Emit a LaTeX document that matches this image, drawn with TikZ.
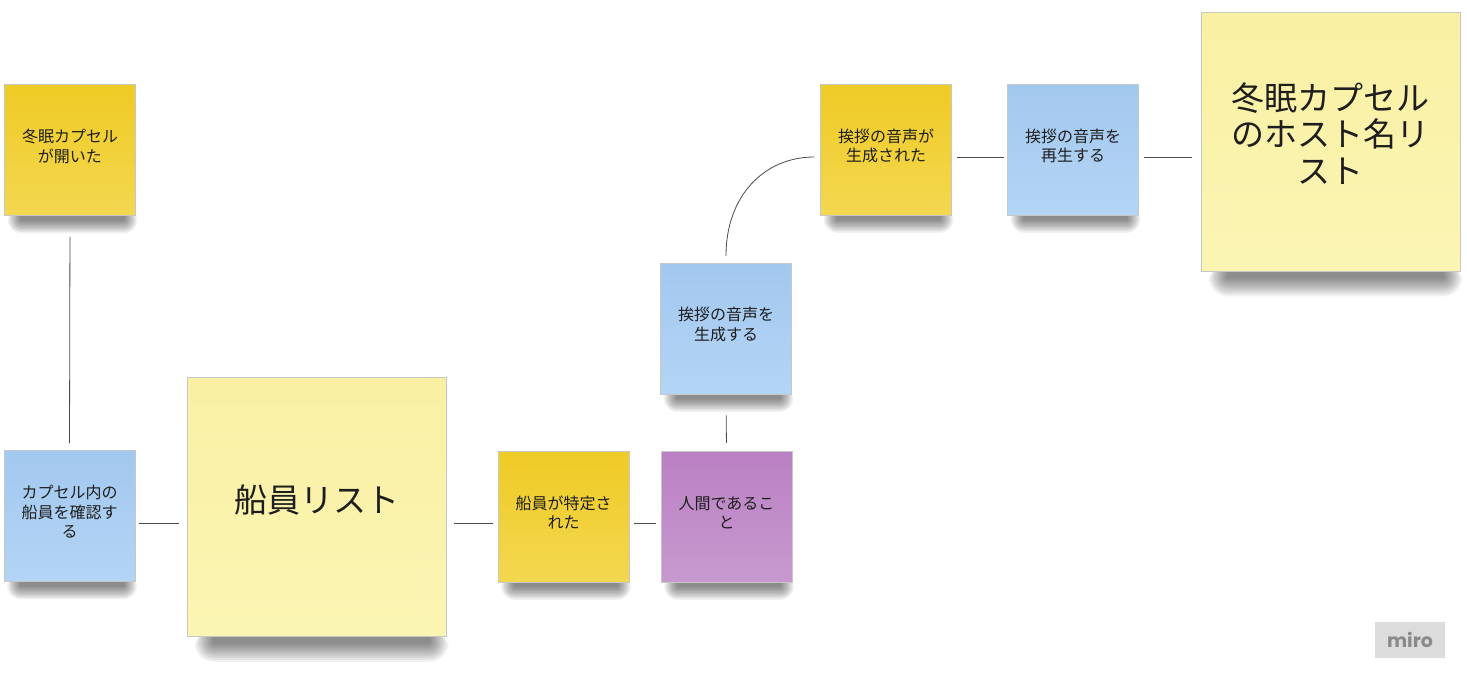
\documentclass[tikz,border=0pt]{standalone}
\usepackage{fontspec}
\newfontfamily\jp{Noto Sans CJK JP}
\newfontfamily\mirofont{Poppins}
\definecolor{yel1}{HTML}{EFCB25}
\definecolor{yel2}{HTML}{F3D750}
\definecolor{blu1}{HTML}{A3C8EF}
\definecolor{blu2}{HTML}{B3D5F5}
\definecolor{pur1}{HTML}{BA80C3}
\definecolor{pur2}{HTML}{C799CF}
\definecolor{lyl1}{HTML}{F9F0A3}
\definecolor{lyl2}{HTML}{FBF5B4}
\definecolor{txt}{HTML}{1E1E1E}
\definecolor{conn}{HTML}{4A4A4A}
\definecolor{mirobg}{HTML}{DCDCDC}
\definecolor{mirotxt}{HTML}{8A8A8A}
\pgfdeclarelayer{paper}
\pgfdeclarelayer{shade}
\pgfsetlayers{paper,shade,main}
\tikzset{
  note/.style={rectangle, inner sep=0pt, draw=black!22, line width=0.5pt},
  smallnote/.style={note, minimum width=131pt, minimum height=131pt},
  bignote/.style={note, minimum width=259pt, minimum height=259pt},
  yellownote/.style={top color=yel1, bottom color=yel2},
  bluenote/.style={top color=blu1, bottom color=blu2},
  purplenote/.style={top color=pur1, bottom color=pur2},
  palenote/.style={top color=lyl1, bottom color=lyl2},
  shadowlayer/.style={fill=black, opacity=0.055},
  lbl/.style={align=center, text=txt, inner sep=0pt, font=\jp\fontsize{16}{19.5}\selectfont},
  lblbig/.style={align=center, text=txt, inner sep=0pt, font=\jp\fontsize{33}{36.5}\selectfont},
  link/.style={draw=conn, line width=0.8pt},
}
% #1 node, #2 left inset, #3 right inset, #4 core depth, #5 growth per layer
\newcommand\stickyshadow[5]{%
  \foreach \k in {0,...,9}{%
    \pgfmathsetlengthmacro\xl{(#2-#5*\k)*1pt}%
    \pgfmathsetlengthmacro\xr{(-#3+#5*\k)*1pt}%
    \pgfmathsetlengthmacro\yb{(-#4-#5*\k)*1pt}%
    \pgfmathsetlengthmacro\rc{(1+#5*\k)*1pt}%
    \fill[shadowlayer, rounded corners=\rc] ([xshift=\xl, yshift=8pt]#1.south west) rectangle ([xshift=\xr, yshift=\yb]#1.south east);
  }%
}
\begin{document}
\begin{tikzpicture}[x=1pt, y=-1pt]
\begin{pgfonlayer}{paper}
\fill[white] (0,0) rectangle (1467,681);
\end{pgfonlayer}
\useasboundingbox (0,0) rectangle (1467,681);

% stickies
\node[smallnote, yellownote] (s1) at (70,150) {};
\node[smallnote, bluenote] (s2) at (69.5,516) {};
\node[bignote, palenote] (s3) at (316.5,507) {};
\node[smallnote, yellownote] (s4) at (563.5,516.5) {};
\node[smallnote, purplenote] (s5) at (726.5,516.5) {};
\node[smallnote, bluenote] (s6) at (726,328.5) {};
\node[smallnote, yellownote] (s7) at (886,149.5) {};
\node[smallnote, bluenote] (s8) at (1073,149.5) {};
\node[bignote, palenote] (s9) at (1330.5,141.5) {};

% shadows
\begin{pgfonlayer}{shade}
\stickyshadow{s1}{16}{11}{5}{1.4}
\stickyshadow{s2}{16}{11}{5}{1.4}
\stickyshadow{s4}{16}{11}{5}{1.4}
\stickyshadow{s5}{16}{11}{5}{1.4}
\stickyshadow{s6}{16}{11}{5}{1.4}
\stickyshadow{s7}{16}{11}{5}{1.4}
\stickyshadow{s8}{16}{11}{5}{1.4}
\stickyshadow{s3}{26}{16}{7}{2}
\stickyshadow{s9}{26}{16}{7}{2}
\end{pgfonlayer}

% labels
\node[lbl] (t1) at ([yshift=3.5pt]s1.center) {冬眠カプセル\\が開いた};
\node[lbl] (t2) at ([yshift=4pt]s2.center) {カプセル内の\\船員を確認す\\る};
\node[lblbig] (t3) at ([yshift=7pt]s3.center) {船員リスト};
\node[lbl] (t4) at ([yshift=4pt]s4.center) {船員が特定さ\\れた};
\node[lbl] (t5) at ([yshift=4pt]s5.center) {人間であるこ\\と};
\node[lbl] (t6) at ([yshift=4pt]s6.center) {挨拶の音声を\\生成する};
\node[lbl] (t7) at ([yshift=3.5pt]s7.center) {挨拶の音声が\\生成された};
\node[lbl] (t8) at ([yshift=3.5pt]s8.center) {挨拶の音声を\\再生する};
\node[lblbig] (t9) at ([yshift=8pt]s9.center) {冬眠カプセル\\のホスト名リ\\スト};

% connectors
\draw[link, shorten <=21pt, shorten >=7pt] (s1.south) -- (s2.north);
\draw[link, shorten <=4pt, shorten >=8pt] ([yshift=-7pt]s2.east) -- ([yshift=-7pt]s2.east -| s3.west);
\draw[link, shorten <=8pt, shorten >=5pt] ([yshift=-6.5pt]s4.west -| s3.east) -- ([yshift=-6.5pt]s4.west);
\draw[link, shorten <=5pt, shorten >=5pt] ([yshift=-6.5pt]s4.east) -- ([yshift=-6.5pt]s5.west);
\draw[link, shorten <=8pt, shorten >=21pt] (s5.north) -- (s6.south);
\coordinate (c6) at ([yshift=7pt]s6.north);
\coordinate (c7) at ([xshift=-6pt,yshift=-7.5pt]s7.west);
\draw[link] (c6) .. controls +(0,-60) and +(-50,0) .. (c7);
\draw[link, shorten <=5pt, shorten >=3pt] ([yshift=-7.5pt]s7.east) -- ([yshift=-7.5pt]s8.west);
\draw[link, shorten <=5pt, shorten >=9pt] ([yshift=-7.5pt]s8.east) -- ([yshift=-7.5pt]s8.east -| s9.west);

% logo
\node[fill=mirobg, minimum width=70pt, minimum height=36pt, inner sep=0pt, text=mirotxt, font=\mirofont\bfseries\fontsize{19}{19}\selectfont] (logo) at (1410,640) {miro};
\end{tikzpicture}
\end{document}
